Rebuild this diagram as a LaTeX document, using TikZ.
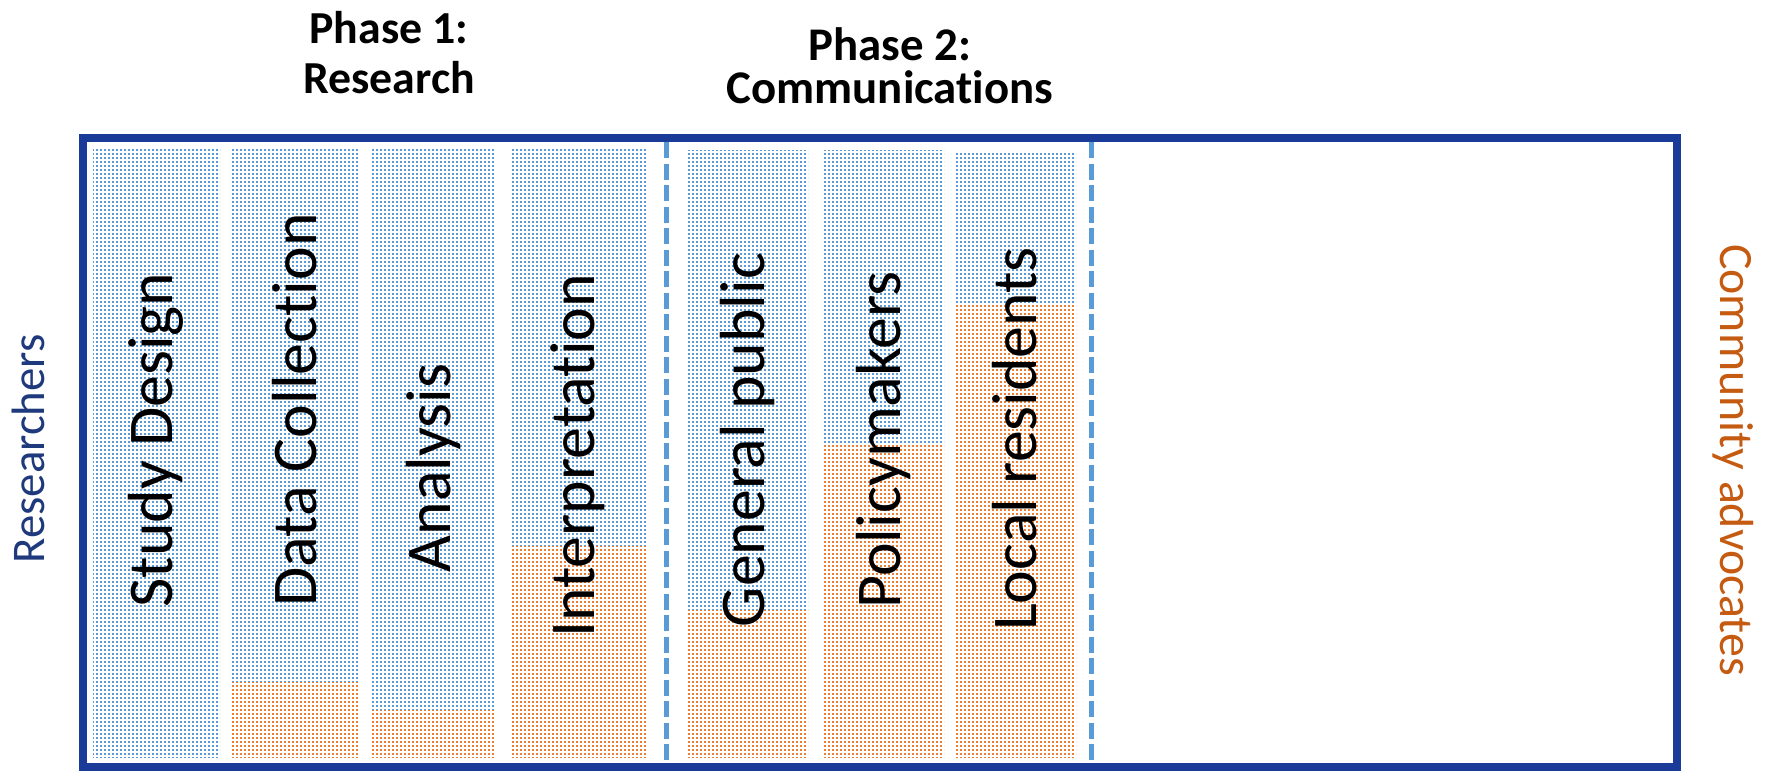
\documentclass[tikz,border=0pt]{standalone}
\usepackage{fontspec}
\setmainfont{Carlito}[Ligatures=NoCommon]
\usetikzlibrary{patterns}

\definecolor{boxblue}{HTML}{1A3C98}
\definecolor{sepblue}{HTML}{5B9BD5}
\definecolor{dotblue}{HTML}{5B9BD5}
\definecolor{dotorange}{HTML}{ED7D31}
\definecolor{resblue}{HTML}{1F3A7C}
\definecolor{advorange}{HTML}{C55A11}

\pgfdeclarepatternformonly{finedots}{\pgfpointorigin}{\pgfqpoint{4bp}{4bp}}{\pgfqpoint{4bp}{4bp}}{%
  \pgfpathrectangle{\pgfpointorigin}{\pgfqpoint{2.2bp}{2.2bp}}%
  \pgfusepath{fill}}

\begin{document}
\begin{tikzpicture}[x=1bp, y=-1bp,
    frame/.style={draw=boxblue, line width=8bp},
    phase_sep/.style={draw=sepblue, line width=5bp, dash pattern=on 16bp off 5.5bp},
    blue_part/.style={pattern=finedots, pattern color=dotblue},
    orange_part/.style={pattern=finedots, pattern color=dotorange},
    col_label/.style={rotate=90, inner sep=0pt, font=\fontsize{64}{64}\selectfont},
    phase_label/.style={align=center, anchor=north, inner sep=0pt},
    side_label/.style={inner sep=0pt}
]
    \useasboundingbox (0,0) rectangle (1771,771);
    % Phases
    \node[phase_label, font=\bfseries\fontsize{46}{50}\selectfont] (phaseone) at (389,11) {Phase 1:\\Research};
    \node[phase_label, font=\bfseries\fontsize{47}{44}\selectfont] (phasetwo) at (890,27) {Phase 2:\\Communications};
    % Columns: researchers (blue) and community advocates (orange)
    \fill[blue_part] (93,149) rectangle (220,757);
    \fill[blue_part] (231,149) rectangle (359,682);
    \fill[orange_part] (231,682) rectangle (359,757);
    \fill[blue_part] (372,149) rectangle (495,710);
    \fill[orange_part] (372,710) rectangle (495,757);
    \fill[blue_part] (510,149) rectangle (647,546);
    \fill[orange_part] (510,546) rectangle (647,757);
    \fill[blue_part] (687,150) rectangle (808,610);
    \fill[orange_part] (687,610) rectangle (808,757);
    \fill[blue_part] (822,150) rectangle (944,445);
    \fill[orange_part] (822,445) rectangle (944,757);
    \fill[blue_part] (954,151) rectangle (1076,305);
    \fill[orange_part] (954,305) rectangle (1076,757);
    % Step labels
    \node[col_label] (design) at (156,440) {Study Design};
    \node[col_label] (collect) at (295,410) {Data Collection};
    \node[col_label] (analysis) at (433,468) {Analysis};
    \node[col_label] (interp) at (578,456) {Interpretation};
    \node[col_label] (public) at (747,440) {General public};
    \node[col_label] (policy) at (883,440) {Policymakers};
    \node[col_label] (local) at (1015,439) {Local residents};
    % Frame and phase separators
    \draw[frame] (83,138) rectangle (1677,767);
    \draw[phase_sep] (666,142) -- (666,763);
    \draw[phase_sep] (1091,142) -- (1091,763);
    % Side labels
    \node[side_label, rotate=90, text=resblue, font=\fontsize{47}{47}\selectfont] (researchers) at (28,449) {Researchers};
    \node[side_label, rotate=-90, text=advorange, font=\fontsize{48}{48}\selectfont] (advocates) at (1733,460) {Community advocates};
\end{tikzpicture}
\end{document}
